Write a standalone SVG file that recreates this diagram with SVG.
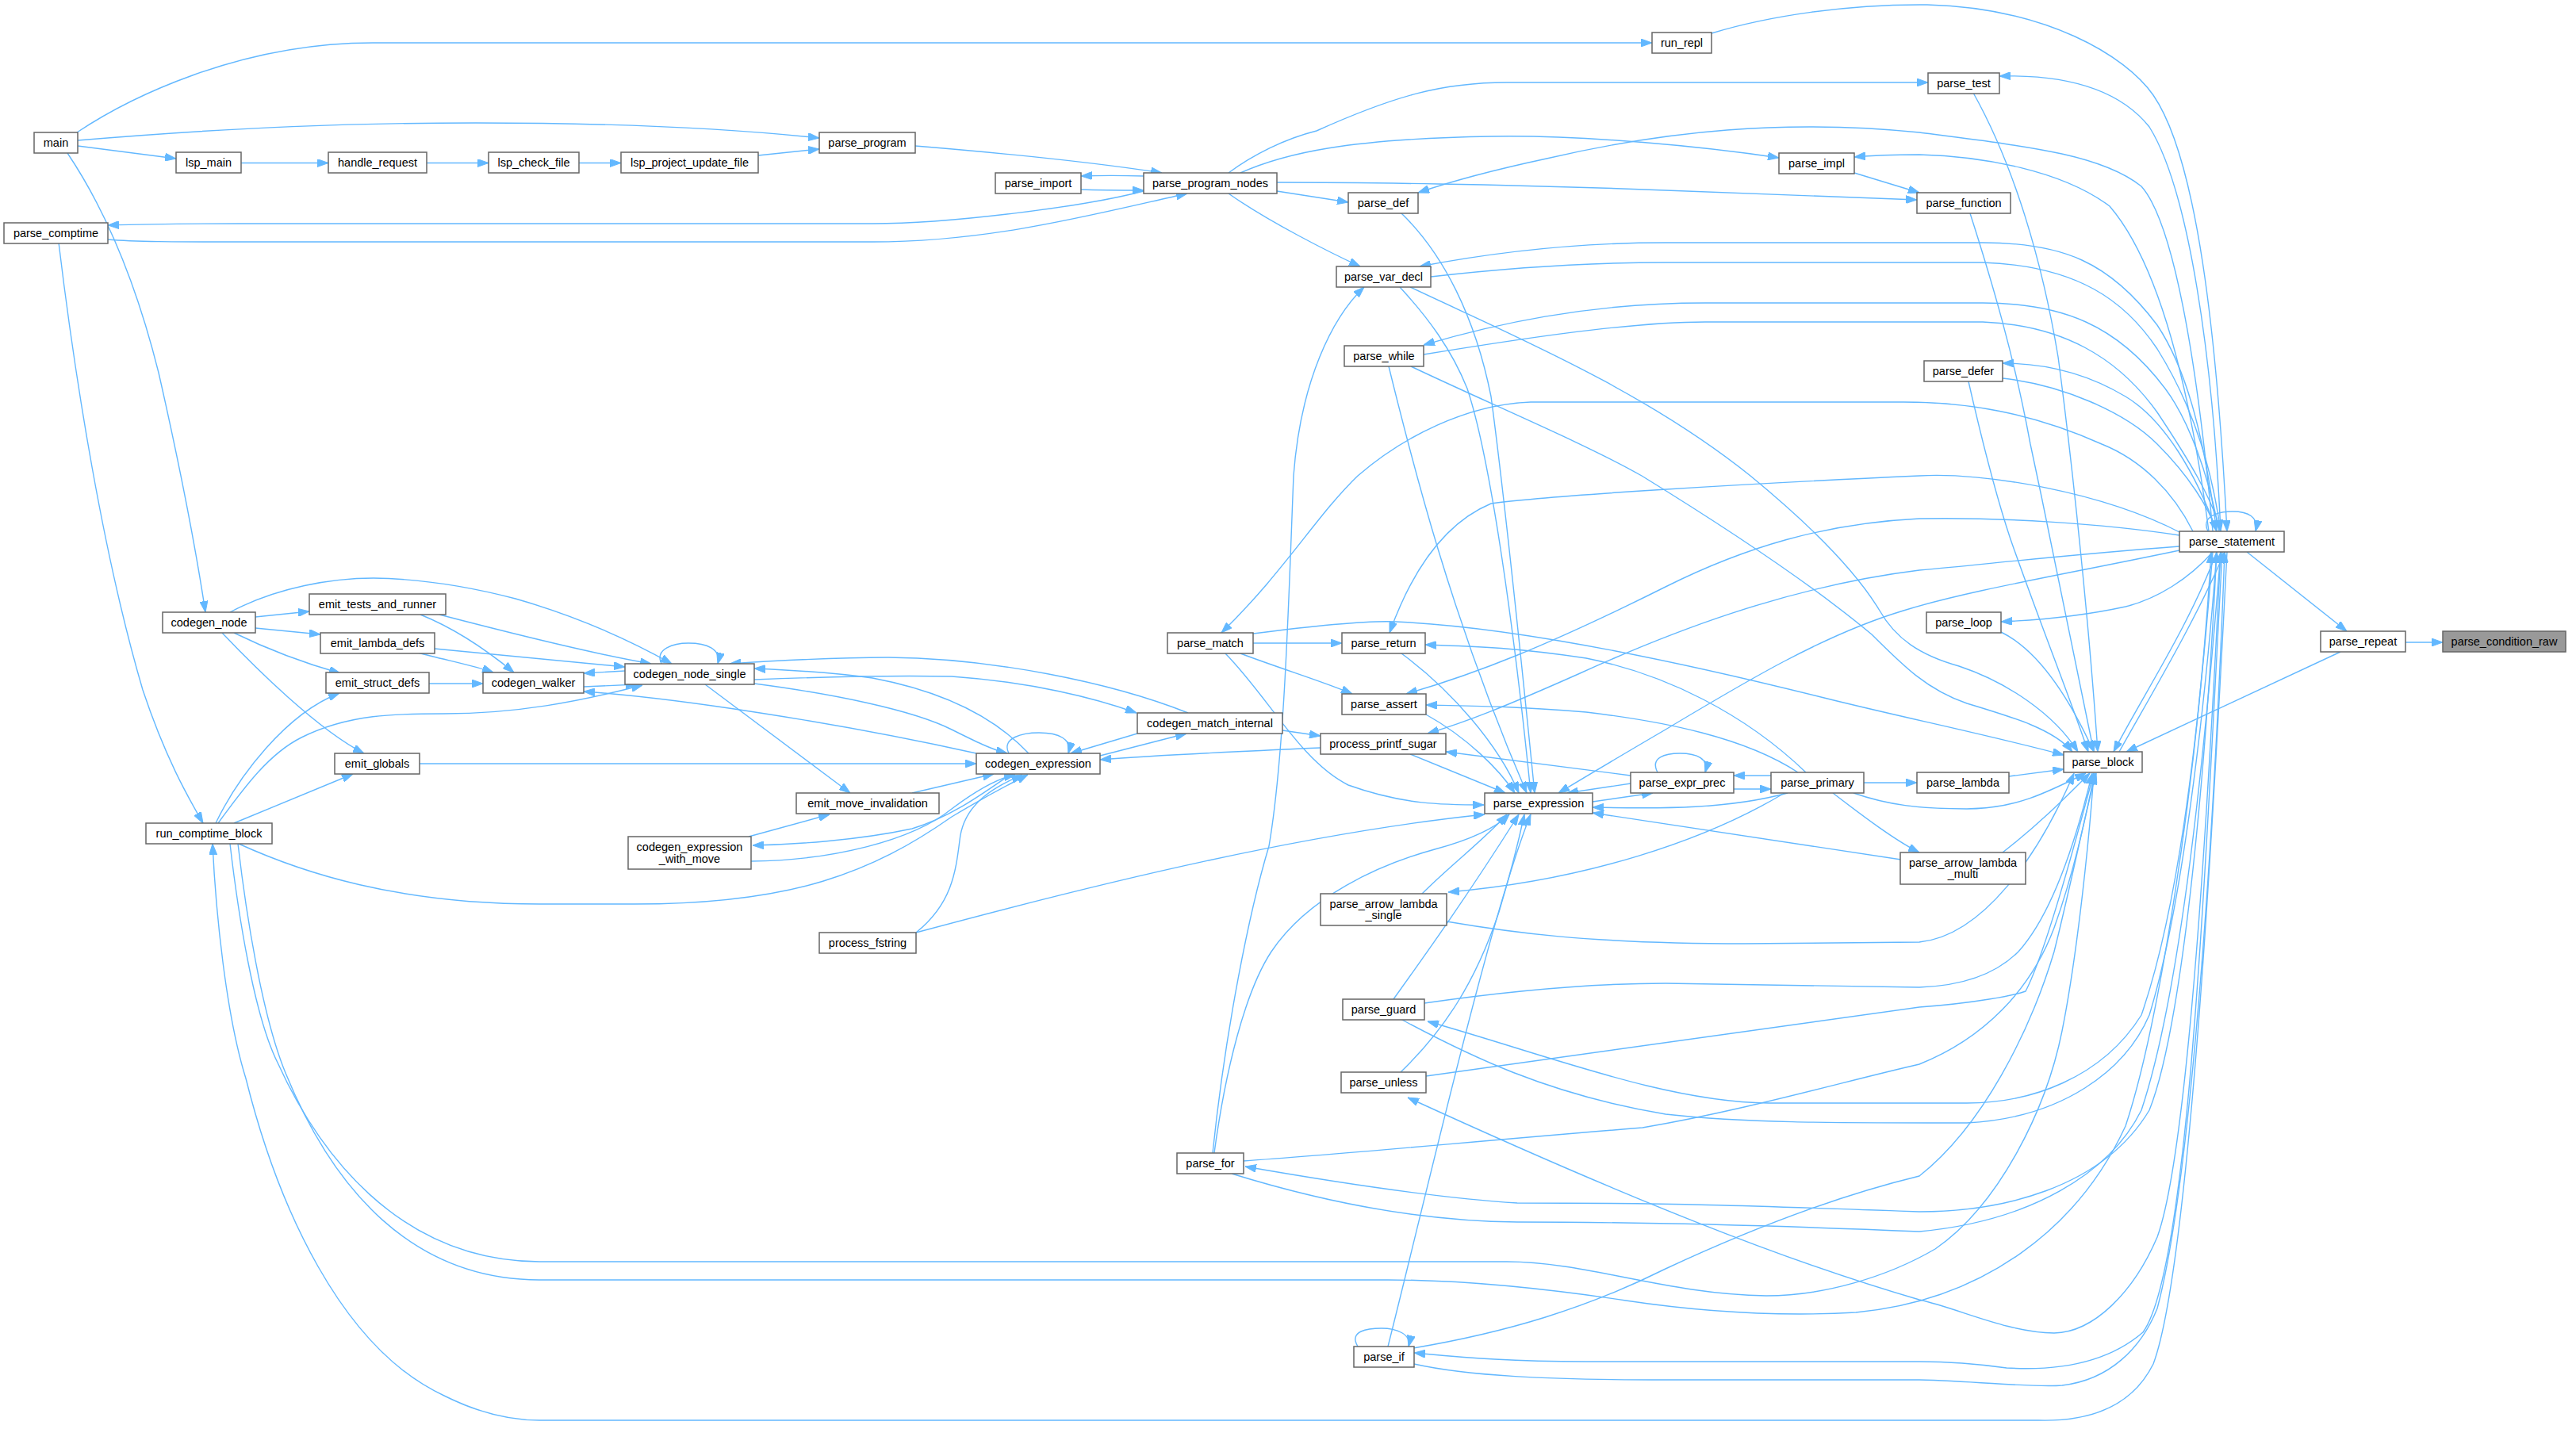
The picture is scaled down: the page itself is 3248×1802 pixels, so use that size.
<svg xmlns="http://www.w3.org/2000/svg" width="3248" height="1802" viewBox="0 0 3248 1802">
<style>
.n rect{fill:#fff;stroke:#666;stroke-width:1.5}
.n.hl rect{fill:#999}
.n text{font-family:"Liberation Sans",Arial,sans-serif;font-size:14.5px;text-anchor:middle;fill:#000}
.e path{fill:none;stroke:#63b8ff;stroke-width:1.4;marker-end:url(#ah)}
</style>
<defs>
<marker id="ah" markerWidth="14" markerHeight="10" refX="14" refY="5" orient="auto" markerUnits="userSpaceOnUse"><path d="M0,0 L14,5 L0,10 z" fill="#63b8ff" stroke="#63b8ff"/></marker>
</defs>
<rect width="3248" height="1802" fill="#fff"/>
<g class="e" id="edges">
<path d="M97,167 C160,125 300,54 470,54 L2083,54"/>
<path d="M98,177 C300,160 450,155 600,155 C750,155 900,160 1033,174"/>
<path d="M98,184 L222,200"/>
<path d="M304,205.5 L414,205.5"/>
<path d="M538,205.5 L616,205.5"/>
<path d="M730,205.5 L783,205.5"/>
<path d="M956,196 L1033,188"/>
<path d="M1154,184 C1300,196 1400,208 1465,218"/>
<path d="M1442,222 C1410,221 1390,221 1363,222"/>
<path d="M1363,239 C1390,240 1410,240 1442,240"/>
<path d="M1442,241 C1370,260 1200,282 1100,282 L300,282 C220,282 170,283 136,284"/>
<path d="M136,302 C170,305 220,305 300,305 L1100,305 C1250,305 1380,270 1497,244"/>
<path d="M85,193 C130,260 170,350 200,470 C225,580 245,680 259,772"/>
<path d="M74,306 C95,480 130,700 180,870 C210,960 240,1010 256,1038"/>
<path d="M1549,218 C1580,195 1620,175 1660,165 C1760,120 1820,104 1900,104 L2431,104"/>
<path d="M1564,218 C1620,193 1700,175 1880,172 C2000,170 2150,185 2243,199"/>
<path d="M1610,230 C1700,230 1900,232 2100,240 L2417,252"/>
<path d="M1610,241 L1700,255"/>
<path d="M1549,244 C1600,280 1680,320 1715,336"/>
<path d="M2338,218 L2420,243"/>
<path d="M2158,42 C2230,20 2330,5 2430,6 C2580,10 2680,70 2715,120 C2770,200 2795,420 2808,670"/>
<path d="M2800,670 C2790,450 2760,240 2710,160 C2670,110 2600,94 2521,96"/>
<path d="M2488,117 C2540,210 2575,330 2595,450 C2615,600 2635,800 2645,948"/>
<path d="M2484,269 C2510,350 2540,450 2560,560 C2590,700 2620,850 2640,948"/>
<path d="M2482,481 C2500,560 2515,620 2535,680 C2570,780 2610,880 2633,948"/>
<path d="M2790,670 C2770,450 2740,280 2700,235 C2650,195 2560,185 2420,167 C2250,150 2100,165 1950,200 C1880,215 1820,232 1788,243"/>
<path d="M2785,670 C2760,480 2720,330 2660,260 C2600,215 2500,197 2420,195 C2390,195 2360,196 2338,198"/>
<path d="M2795,670 C2780,560 2760,470 2720,410 C2660,330 2600,306 2500,306 L2100,306 C2000,306 1900,315 1790,336"/>
<path d="M1804,349 C1900,338 2000,331 2100,331 L2500,331 C2620,335 2680,380 2720,440 C2770,520 2790,600 2800,670"/>
<path d="M2798,670 C2785,600 2760,530 2730,490 C2670,410 2600,382 2500,382 L2150,382 C2000,382 1880,410 1795,435"/>
<path d="M1795,447 C1900,430 2050,406 2150,406 L2500,406 C2600,410 2670,450 2720,520 C2760,580 2790,630 2800,670"/>
<path d="M2795,670 C2770,600 2730,530 2680,500 C2630,470 2580,458 2525,458"/>
<path d="M2525,477 C2600,485 2680,520 2720,560 C2760,600 2785,640 2795,670"/>
<path d="M2765,670 C2740,620 2700,580 2650,560 C2560,520 2480,507 2400,507 L1930,507 C1850,510 1770,550 1712,600 C1660,650 1620,720 1540,798"/>
<path d="M2750,672 C2650,620 2500,595 2420,600 C2200,610 1950,625 1880,635 C1820,660 1780,720 1752,798"/>
<path d="M2748,675 C2650,660 2520,652 2420,654 C2300,660 2200,690 2100,740 C1950,815 1860,850 1773,875"/>
<path d="M2748,689 C2600,700 2500,712 2420,719 C2250,740 2100,800 1990,850 C1900,890 1850,910 1800,925"/>
<path d="M2748,694 C2600,725 2480,745 2400,770 C2300,800 2200,860 2100,920 C2040,955 1990,985 1965,1000"/>
<path d="M1778,362 C1900,420 2070,490 2207,600 C2280,660 2340,720 2370,770 C2390,805 2420,826 2470,840 C2530,860 2590,900 2620,948"/>
<path d="M1779,462 C1880,510 2000,560 2070,600 C2200,680 2300,750 2360,800 C2400,840 2430,870 2480,887 C2540,905 2590,920 2613,948"/>
<path d="M1580,799 C1650,790 1720,782 1760,784 C1900,790 2100,830 2300,880 C2400,905 2500,925 2602,952"/>
<path d="M2790,696 C2760,730 2720,755 2680,765 C2620,778 2570,782 2523,784"/>
<path d="M2523,797 C2560,815 2600,860 2640,948"/>
<path d="M2795,696 C2760,790 2700,880 2665,948"/>
<path d="M2672,948 C2710,880 2770,780 2805,696"/>
<path d="M2784,670 C2775,652 2795,645 2815,645 C2835,645 2848,652 2844,670"/>
<path d="M2833,696 L2959,796"/>
<path d="M3033,810 L3080,810"/>
<path d="M2951,822 L2681,948"/>
<path d="M322,778 L390,771"/>
<path d="M322,792 L404,800"/>
<path d="M295,798 C340,820 390,838 429,849"/>
<path d="M280,798 C320,840 400,920 459,950"/>
<path d="M290,772 C350,740 420,729 471,729 C540,730 600,742 650,755 C720,775 790,805 847,837"/>
<path d="M554,775 C650,800 750,825 821,837"/>
<path d="M530,775 C580,795 620,825 648,848"/>
<path d="M548,818 C650,828 730,835 788,841"/>
<path d="M527,823 C560,832 600,840 622,848"/>
<path d="M541,862 L609,862"/>
<path d="M788,846 L736,849"/>
<path d="M736,866 L803,863"/>
<path d="M1231,950 C1050,910 850,880 736,872"/>
<path d="M272,1038 C300,980 360,900 428,874"/>
<path d="M275,1038 C310,990 340,950 380,930 C440,900 500,900 560,900 C650,900 730,885 810,864"/>
<path d="M295,1038 L445,976"/>
<path d="M529,963 L1231,963"/>
<path d="M301,1064 C380,1100 500,1140 680,1140 L800,1140 C1000,1140 1100,1100 1200,1030 C1250,1000 1280,985 1296,977"/>
<path d="M1498,899 C1400,860 1250,830 1120,829 C1050,829 980,833 920,837"/>
<path d="M951,857 C1050,853 1150,852 1200,853 C1300,860 1380,880 1433,899"/>
<path d="M1297,950 C1250,900 1180,870 1100,855 C1050,848 1000,845 951,843"/>
<path d="M951,862 C1050,875 1150,895 1200,920 C1230,935 1250,945 1270,950"/>
<path d="M834,837 C825,818 850,811 868,811 C890,811 910,818 905,837"/>
<path d="M889,863 L1072,1000"/>
<path d="M1150,1000 L1253,976"/>
<path d="M1275,976 C1240,1000 1200,1030 1150,1045 C1080,1060 1000,1065 949,1066"/>
<path d="M944,1055 L1046,1027"/>
<path d="M947,1086 C1050,1085 1150,1060 1200,1020 C1240,990 1265,980 1280,977"/>
<path d="M1155,1176 C1200,1140 1205,1100 1210,1060 C1215,1010 1260,990 1289,977"/>
<path d="M1272,950 C1262,930 1290,924 1310,924 C1335,924 1352,932 1347,950"/>
<path d="M1434,925 L1350,950"/>
<path d="M1387,953 L1496,925"/>
<path d="M1617,921 L1665,928"/>
<path d="M1665,943 C1550,948 1450,953 1387,958"/>
<path d="M1155,1176 C1400,1110 1650,1050 1872,1027"/>
<path d="M1767,269 C1820,320 1860,400 1880,500 C1900,650 1920,850 1935,1000"/>
<path d="M1765,362 C1800,400 1830,440 1850,490 C1880,580 1910,800 1930,1000"/>
<path d="M1751,462 C1780,580 1830,780 1925,1000"/>
<path d="M1529,1454 C1545,1300 1575,1150 1600,1067 C1620,950 1625,750 1631,600 C1640,480 1680,400 1720,362"/>
<path d="M1531,1454 C1545,1350 1570,1250 1603,1200 C1650,1130 1740,1090 1809,1071 C1850,1060 1885,1045 1903,1027"/>
<path d="M1757,1260 C1800,1200 1850,1130 1915,1027"/>
<path d="M1766,1352 C1820,1300 1860,1240 1890,1150 C1905,1100 1915,1060 1922,1027"/>
<path d="M1750,1698 C1800,1500 1880,1150 1930,1027"/>
<path d="M1712,1698 C1700,1678 1725,1675 1742,1675 C1760,1675 1780,1682 1776,1698"/>
<path d="M1793,1127 C1830,1090 1870,1060 1900,1027"/>
<path d="M1824,1162 C1900,1175 2000,1190 2200,1190 L2420,1188 C2500,1180 2570,1080 2615,975"/>
<path d="M2250,1000 C2150,1060 2000,1110 1826,1125"/>
<path d="M2277,974 C2200,900 2100,850 2000,830 C1900,815 1850,815 1797,813"/>
<path d="M2267,974 C2200,930 2100,910 2000,898 C1900,890 1850,890 1798,889"/>
<path d="M2056,978 L1823,948"/>
<path d="M1778,951 L1898,1000"/>
<path d="M1767,824 C1830,870 1890,940 1915,1000"/>
<path d="M1798,901 C1850,930 1890,970 1910,1000"/>
<path d="M1545,824 C1600,880 1640,960 1700,990 C1770,1015 1820,1015 1871,1015"/>
<path d="M1580,811 L1692,811"/>
<path d="M1564,824 C1620,845 1670,860 1705,875"/>
<path d="M2008,1011 L2084,1000"/>
<path d="M2056,988 L1976,1000"/>
<path d="M2090,974 C2080,955 2100,950 2118,950 C2140,950 2155,957 2150,974"/>
<path d="M2233,978 L2186,978"/>
<path d="M2186,995 L2233,995"/>
<path d="M2254,1000 C2180,1020 2100,1020 2008,1018"/>
<path d="M2350,987 L2417,987"/>
<path d="M2311,1000 C2350,1030 2390,1060 2420,1075"/>
<path d="M2397,1084 L2008,1025"/>
<path d="M2337,1000 C2380,1015 2420,1020 2480,1020 C2540,1020 2580,1000 2630,975"/>
<path d="M2533,979 L2602,970"/>
<path d="M2525,1075 C2570,1040 2600,1010 2635,975"/>
<path d="M1796,1265 C1900,1250 2000,1240 2100,1240 L2420,1245 C2480,1243 2520,1225 2545,1200 C2590,1150 2620,1050 2638,975"/>
<path d="M1798,1357 L2420,1270 C2490,1265 2540,1255 2554,1250 C2580,1200 2620,1050 2640,975"/>
<path d="M2790,696 C2770,950 2745,1150 2700,1280 C2650,1360 2560,1391 2480,1391 L2230,1391 C2100,1390 1950,1330 1800,1288"/>
<path d="M1766,1285 C1850,1330 1950,1380 2100,1405 C2200,1416 2300,1416 2480,1416 C2600,1410 2680,1350 2710,1280 C2750,1150 2780,900 2795,696"/>
<path d="M2800,696 C2785,1000 2760,1450 2720,1560 C2690,1630 2640,1680 2590,1681 C2530,1680 2470,1650 2420,1639 C2250,1590 2050,1510 1775,1384"/>
<path d="M1568,1464 C1700,1455 1850,1440 2071,1422 C2200,1400 2320,1365 2420,1342 C2500,1310 2560,1250 2590,1170 C2615,1100 2630,1030 2641,975"/>
<path d="M2795,696 C2780,1000 2750,1300 2710,1400 C2650,1500 2520,1528 2420,1528 C2200,1520 2100,1517 1913,1517 C1800,1510 1650,1485 1570,1471"/>
<path d="M1553,1480 C1650,1510 1780,1540 1913,1541 C2100,1541 2300,1548 2420,1553 C2560,1540 2660,1480 2700,1400 C2750,1250 2780,950 2800,696"/>
<path d="M1782,1700 C1900,1680 2000,1650 2100,1600 C2250,1530 2350,1500 2420,1483 C2500,1420 2560,1300 2590,1200 C2615,1100 2630,1020 2643,975"/>
<path d="M2802,696 C2780,1100 2760,1600 2702,1680 C2650,1725 2580,1728 2530,1725 C2480,1718 2450,1717 2420,1717 L2000,1717 C1900,1717 1850,1712 1783,1706"/>
<path d="M1783,1720 C1850,1735 1950,1740 2100,1740 L2420,1740 C2500,1742 2560,1750 2600,1747 C2660,1740 2700,1700 2720,1650 C2760,1500 2790,1100 2805,696"/>
<path d="M290,1064 C300,1150 320,1280 350,1340 C400,1450 500,1590 680,1591 L1900,1591 C2000,1591 2100,1632 2227,1634 C2300,1634 2380,1610 2440,1575 C2520,1520 2580,1400 2600,1300 C2620,1200 2635,1050 2640,975"/>
<path d="M300,1064 C310,1150 330,1280 360,1353 C420,1500 520,1614 680,1614 L1750,1614 C1850,1614 1950,1625 2050,1640 C2150,1655 2250,1660 2340,1655 C2500,1640 2620,1550 2680,1420 C2720,1300 2770,1000 2788,696"/>
<path d="M2808,696 C2790,1050 2760,1600 2715,1720 C2690,1770 2640,1793 2570,1791 L680,1791 C640,1791 600,1780 560,1760 C430,1700 350,1520 310,1360 C285,1280 272,1150 268,1064"/>
</g>
<g class="n" id="n_main"><rect x="43" y="167" width="55" height="26"/><text x="70.5" y="185">main</text></g>
<g class="n" id="n_lsp_main"><rect x="222" y="192" width="82" height="26"/><text x="263" y="210">lsp_main</text></g>
<g class="n" id="n_handle_request"><rect x="414" y="192" width="124" height="26"/><text x="476" y="210">handle_request</text></g>
<g class="n" id="n_lsp_check_file"><rect x="616" y="192" width="114" height="26"/><text x="673" y="210">lsp_check_file</text></g>
<g class="n" id="n_lsp_project_update_file"><rect x="783" y="192" width="173" height="26"/><text x="869.5" y="210">lsp_project_update_file</text></g>
<g class="n" id="n_parse_program"><rect x="1033" y="167" width="121" height="26"/><text x="1093.5" y="185">parse_program</text></g>
<g class="n" id="n_parse_import"><rect x="1255" y="218" width="108" height="26"/><text x="1309" y="236">parse_import</text></g>
<g class="n" id="n_parse_program_nodes"><rect x="1442" y="218" width="168" height="26"/><text x="1526" y="236">parse_program_nodes</text></g>
<g class="n" id="n_parse_comptime"><rect x="5" y="281" width="131" height="26"/><text x="70.5" y="299">parse_comptime</text></g>
<g class="n" id="n_run_repl"><rect x="2083" y="41" width="75" height="26"/><text x="2120.5" y="59">run_repl</text></g>
<g class="n" id="n_parse_test"><rect x="2431" y="92" width="90" height="26"/><text x="2476" y="110">parse_test</text></g>
<g class="n" id="n_parse_impl"><rect x="2243" y="193" width="95" height="26"/><text x="2290.5" y="211">parse_impl</text></g>
<g class="n" id="n_parse_def"><rect x="1700" y="243" width="88" height="26"/><text x="1744" y="261">parse_def</text></g>
<g class="n" id="n_parse_function"><rect x="2417" y="243" width="118" height="26"/><text x="2476" y="261">parse_function</text></g>
<g class="n" id="n_parse_var_decl"><rect x="1685" y="336" width="119" height="26"/><text x="1744.5" y="354">parse_var_decl</text></g>
<g class="n" id="n_parse_while"><rect x="1695" y="436" width="100" height="26"/><text x="1745" y="454">parse_while</text></g>
<g class="n" id="n_parse_defer"><rect x="2426" y="455" width="99" height="26"/><text x="2475.5" y="473">parse_defer</text></g>
<g class="n" id="n_parse_statement"><rect x="2748" y="670" width="132" height="26"/><text x="2814" y="688">parse_statement</text></g>
<g class="n" id="n_parse_loop"><rect x="2429" y="772" width="94" height="26"/><text x="2476" y="790">parse_loop</text></g>
<g class="n" id="n_parse_repeat"><rect x="2926" y="796" width="107" height="26"/><text x="2979.5" y="814">parse_repeat</text></g>
<g class="n hl" id="n_parse_condition_raw"><rect x="3080" y="796" width="155" height="26"/><text x="3157.5" y="814">parse_condition_raw</text></g>
<g class="n" id="n_parse_block"><rect x="2602" y="948" width="99" height="26"/><text x="2651.5" y="966">parse_block</text></g>
<g class="n" id="n_parse_lambda"><rect x="2417" y="974" width="116" height="26"/><text x="2475" y="992">parse_lambda</text></g>
<g class="n" id="n_parse_arrow_lambda_multi"><rect x="2396" y="1075" width="158" height="40"/><text x="2475" y="1092.5">parse_arrow_lambda</text><text x="2475" y="1107">_multi</text></g>
<g class="n" id="n_parse_primary"><rect x="2233" y="974" width="117" height="26"/><text x="2291.5" y="992">parse_primary</text></g>
<g class="n" id="n_parse_expr_prec"><rect x="2056" y="974" width="130" height="26"/><text x="2121" y="992">parse_expr_prec</text></g>
<g class="n" id="n_parse_expression"><rect x="1872" y="1000" width="136" height="26"/><text x="1940" y="1018">parse_expression</text></g>
<g class="n" id="n_parse_match"><rect x="1472" y="798" width="108" height="26"/><text x="1526" y="816">parse_match</text></g>
<g class="n" id="n_parse_return"><rect x="1692" y="798" width="105" height="26"/><text x="1744.5" y="816">parse_return</text></g>
<g class="n" id="n_parse_assert"><rect x="1692" y="875" width="106" height="26"/><text x="1745" y="893">parse_assert</text></g>
<g class="n" id="n_process_printf_sugar"><rect x="1665" y="925" width="158" height="26"/><text x="1744" y="943">process_printf_sugar</text></g>
<g class="n" id="n_codegen_match_internal"><rect x="1434" y="899" width="183" height="26"/><text x="1525.5" y="917">codegen_match_internal</text></g>
<g class="n" id="n_codegen_expression"><rect x="1231" y="950" width="156" height="26"/><text x="1309" y="968">codegen_expression</text></g>
<g class="n" id="n_parse_arrow_lambda_single"><rect x="1665" y="1127" width="159" height="40"/><text x="1744.5" y="1144.5">parse_arrow_lambda</text><text x="1744.5" y="1159">_single</text></g>
<g class="n" id="n_parse_guard"><rect x="1693" y="1260" width="103" height="26"/><text x="1744.5" y="1278">parse_guard</text></g>
<g class="n" id="n_parse_unless"><rect x="1691" y="1352" width="107" height="26"/><text x="1744.5" y="1370">parse_unless</text></g>
<g class="n" id="n_parse_for"><rect x="1484" y="1454" width="84" height="26"/><text x="1526" y="1472">parse_for</text></g>
<g class="n" id="n_parse_if"><rect x="1707" y="1698" width="76" height="26"/><text x="1745" y="1716">parse_if</text></g>
<g class="n" id="n_process_fstring"><rect x="1033" y="1176" width="122" height="26"/><text x="1094" y="1194">process_fstring</text></g>
<g class="n" id="n_codegen_node"><rect x="205" y="772" width="117" height="26"/><text x="263.5" y="790">codegen_node</text></g>
<g class="n" id="n_emit_tests_and_runner"><rect x="390" y="749" width="172" height="26"/><text x="476" y="767">emit_tests_and_runner</text></g>
<g class="n" id="n_emit_lambda_defs"><rect x="404" y="798" width="144" height="26"/><text x="476" y="816">emit_lambda_defs</text></g>
<g class="n" id="n_emit_struct_defs"><rect x="411" y="848" width="130" height="26"/><text x="476" y="866">emit_struct_defs</text></g>
<g class="n" id="n_codegen_walker"><rect x="609" y="848" width="127" height="26"/><text x="672.5" y="866">codegen_walker</text></g>
<g class="n" id="n_emit_globals"><rect x="422" y="950" width="107" height="26"/><text x="475.5" y="968">emit_globals</text></g>
<g class="n" id="n_run_comptime_block"><rect x="184" y="1038" width="159" height="26"/><text x="263.5" y="1056">run_comptime_block</text></g>
<g class="n" id="n_codegen_node_single"><rect x="788" y="837" width="163" height="26"/><text x="869.5" y="855">codegen_node_single</text></g>
<g class="n" id="n_emit_move_invalidation"><rect x="1004" y="1000" width="180" height="26"/><text x="1094" y="1018">emit_move_invalidation</text></g>
<g class="n" id="n_codegen_expression_with_move"><rect x="792" y="1055" width="155" height="41"/><text x="869.5" y="1073">codegen_expression</text><text x="869.5" y="1087.5">_with_move</text></g>
</svg>
